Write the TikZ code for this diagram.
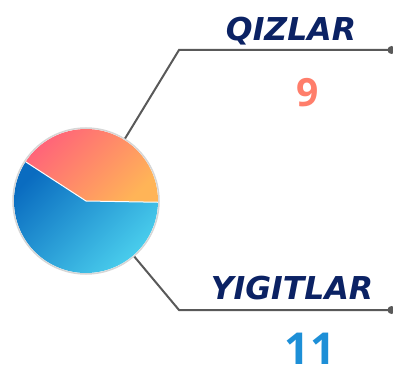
\documentclass[tikz,border=0pt]{standalone}
\usepackage{fontspec}
\usetikzlibrary{positioning}
\newfontfamily\titlefont{DejaVu Sans}
\newfontfamily\countfont{Open Sans}
\definecolor{navy}{HTML}{0B2264}
\definecolor{linegray}{HTML}{595959}
\definecolor{ringgray}{HTML}{D6D6D6}
\definecolor{pinkA}{HTML}{FF6479}
\definecolor{orangeA}{HTML}{FFB457}
\definecolor{blueA}{HTML}{0A6CC0}
\definecolor{cyanA}{HTML}{4DD3EF}
\definecolor{ninecol}{HTML}{FF7E6B}
\definecolor{elevencol}{HTML}{1D8FD7}
\tikzset{link/.style={draw=linegray,line width=2pt},
enddot/.style={circle,fill=linegray,inner sep=0pt,minimum size=8pt},
title/.style={font=\titlefont\bfseries\itshape\fontsize{31.5}{32}\selectfont,text=navy,anchor=base},
tally/.style={font=\countfont\bfseries\fontsize{#1}{#1}\selectfont,anchor=base,inner sep=1pt}}

\begin{document}
\begin{tikzpicture}[x=1pt,y=1pt]
\useasboundingbox (0,0) rectangle (393,367);
\coordinate (c) at (86,166);
\shade[top color=pinkA,bottom color=orangeA,shading angle=45] (c) -- ++(-1:72pt) arc[start angle=-1,end angle=147,radius=72pt] -- cycle;
\shade[top color=blueA,bottom color=cyanA,shading angle=45] (c) -- ++(147:72pt) arc[start angle=147,end angle=359,radius=72pt] -- cycle;
\draw[white,line width=1pt] (c) -- ++(147:72pt);
\draw[white,line width=1pt] (c) -- ++(-1:72pt);
\node[circle,draw=ringgray,line width=1.5pt,minimum size=146pt,inner sep=0pt] (pie) at (c) {};
\coordinate (kneeA) at (179,317);
\coordinate (kneeB) at (179,57);
\node[enddot] (dotA) at (391.5,317) {};
\node[enddot] (dotB) at (391.5,57) {};
\draw[link] (pie.58) -- (kneeA) -- (dotA.center);
\draw[link] (pie.-49) -- (kneeB) -- (dotB.center);
\node[title] (girls) at (291,326) {QIZLAR};
\node[tally=39,text=ninecol] (nine) at (308,260) {9};
\node[title] (boys) at (292,68) {YIGITLAR};
\node[tally=44,text=elevencol] (eleven) at (310,3) {11};
\end{tikzpicture}
\end{document}
